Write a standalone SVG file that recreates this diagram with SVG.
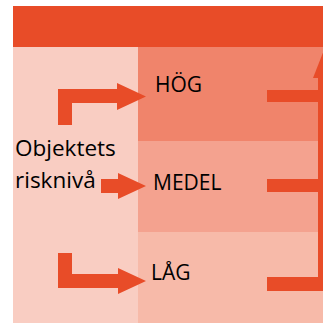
<svg xmlns="http://www.w3.org/2000/svg" width="323" height="323" viewBox="0 0 323 323">
<style>
.arrow{fill:#E84C28}
.lbl{font-family:"Open Sans","Liberation Sans",sans-serif;font-size:21px;fill:#000}
.side{font-size:22.5px}
</style>
<rect width="323" height="323" fill="#fff"/>
<g id="header"><rect x="13" y="6" width="310" height="41" fill="#E84C28"/></g>
<g id="left-panel"><rect x="13" y="47" width="125" height="276" fill="#F9CDC2"/></g>
<g id="hog"><rect x="138" y="47" width="185" height="94" fill="#F0846B"/><text class="lbl" x="155" y="92">HÖG</text></g>
<g id="medel"><rect x="138" y="141" width="185" height="91" fill="#F4A28F"/><text class="lbl" x="153" y="190">MEDEL</text></g>
<g id="lag"><rect x="138" y="232" width="185" height="91" fill="#F7BAA9"/><text class="lbl" x="151" y="280">LÅG</text></g>
<g id="objektets"><text class="lbl side" x="15" y="156">Objektets</text><text class="lbl side" x="15" y="188">risknivå</text></g>
<g id="connectors">
<polygon class="arrow" points="58,125 58,89 117,89 117,83 146,96.5 117,110 117,103 72,103 72,125"/>
<polygon class="arrow" points="101,179 118,179 118,173 146,186 118,199 118,193 101,193"/>
<polygon class="arrow" points="58,253 72,253 72,274 118,274 118,268 146,281 118,294 118,288 58,288"/>
<rect class="arrow" x="267" y="90" width="56" height="12"/>
<rect class="arrow" x="267" y="179" width="56" height="13"/>
<rect class="arrow" x="267" y="277" width="56" height="14"/>
<rect class="arrow" x="318" y="70" width="8" height="221"/>
<polygon class="arrow" points="324,50 313,78 335,78"/>
</g>
</svg>
